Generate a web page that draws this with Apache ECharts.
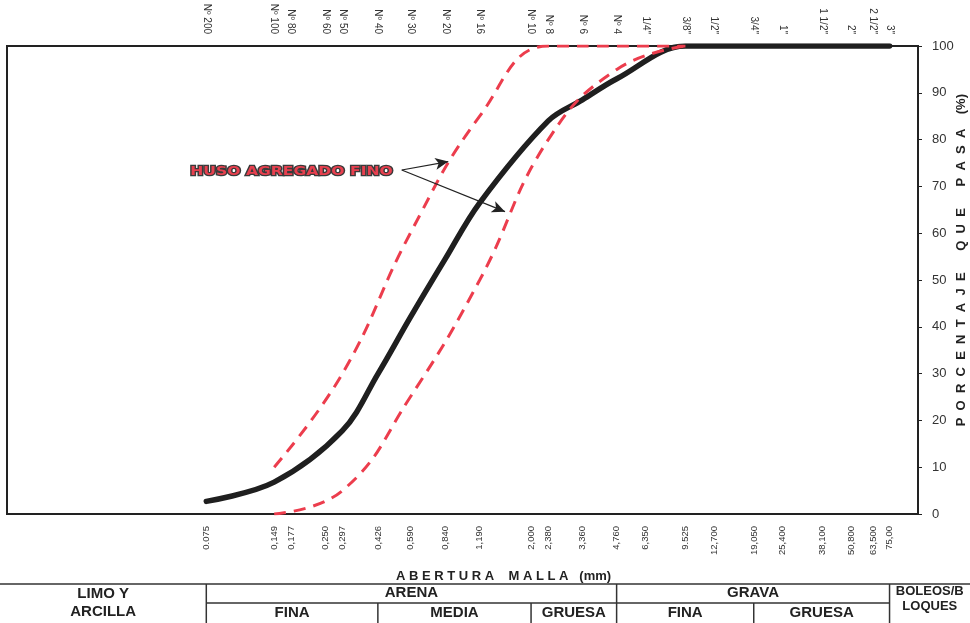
<!DOCTYPE html>
<html>
<head>
<meta charset="utf-8">
<script src="https://cdn.jsdelivr.net/npm/echarts@6/dist/echarts.min.js"></script>
<style>
  html, body { margin: 0; padding: 0; background: #fff; }
  #chart { width: 970px; height: 623px; }
</style>
</head>
<body>
<div id="chart"></div>
<script>
// Sieve openings (mm), printed opening labels and sieve designations
const sieveSizes = [0.075, 0.149, 0.177, 0.250, 0.297, 0.426, 0.590, 0.840, 1.190, 2.000, 2.380,
  3.360, 4.760, 6.350, 9.525, 12.700, 19.050, 25.400, 38.100, 50.800, 63.500, 75.00];
const sizeLabels = ['0.075', '0,149', '0,177', '0,250', '0,297', '0,426', '0,590', '0,840', '1,190', '2,000', '2,380',
  '3,360', '4,760', '6,350', '9.525', '12,700', '19,050', '25,400', '38,100', '50,800', '63,500', '75,00'];
const sieveNames = ['Nº 200', 'Nº 100', 'Nº 80', 'Nº 60', 'Nº 50', 'Nº 40', 'Nº 30', 'Nº 20', 'Nº 16', 'Nº 10', 'Nº 8',
  'Nº 6', 'Nº 4', '1/4"', '3/8"', '1/2"', '3/4"', '1"', '1 1/2"', '2"', '2 1/2"', '3"'];

// Percent passing of the tested sample on the sieves used in the test
const sampleSizes = [0.075, 0.149, 0.297, 0.426, 0.590, 0.840, 1.190, 2.380, 3.360, 4.760, 9.525, 19.050, 38.100, 75.00];
const passingSample = [2.7, 6.8, 17.8, 30, 42, 54.5, 66.5, 84, 88.5, 93, 100, 100, 100, 100];

// Fine aggregate grading band (upper and lower limits)
const limitSizes = [0.149, 0.297, 0.590, 1.190, 2.380, 4.760, 9.525];
const upperLimit = [10, 30, 60, 85, 100, 100, 100];
const lowerLimit = [0, 5, 25, 50, 80, 95, 100];

// Soil classification boundaries (mm) used by the table under the chart
const classBounds = [0.075, 0.425, 2.0, 4.75, 19.0, 75.0];

// Callout anchors in data units: [opening mm, % passing]
const calloutText = 'HUSO AGREGADO FINO';
const calloutAnchor = [0.1775, 73.1];
const arrowStart = [0.541, 73.5];
const arrowTips = [[0.866, 75.3], [1.537, 64.6]];

const pair = (xs, ys) => xs.map((x, i) => [x, ys[i]]);
const indexOfSize = v => sieveSizes.findIndex(s => Math.abs(Math.log10(s) - Math.log10(v)) < 1e-4);
const spaced = (words, gap, wordGap) => words.map(w => w.split('').join(gap)).join(wordGap);

const labelFont = 'Liberation Sans, Arial, sans-serif';
const red = '#ec3d4d';

const chart = echarts.init(document.getElementById('chart'), null, { renderer: 'canvas' });

const option = {
  animation: false,
  backgroundColor: '#fff',
  grid: {
    left: 7, right: 52, top: 46, bottom: 109,
    outerBoundsMode: 'none', containLabel: false,
    show: true, borderColor: '#222', borderWidth: 2, backgroundColor: 'transparent'
  },
  xAxis: [
    {
      type: 'log', logBase: 10, min: 0.01, max: 100, position: 'bottom',
      name: spaced(['ABERTURA', 'MALLA'], ' ', '    ') + '   (mm)',
      nameLocation: 'middle', nameGap: 56,
      nameTextStyle: { fontFamily: labelFont, fontWeight: 'bold', fontSize: 13, color: '#222', padding: [0, 0, 0, 82] },
      axisLine: { show: true, lineStyle: { color: '#222', width: 2 } },
      axisTick: { show: false },
      splitLine: { show: false },
      minorTick: { show: false },
      axisLabel: {
        customValues: sieveSizes,
        rotate: 90, margin: 12, fontSize: 9.5, color: '#333', fontFamily: labelFont,
        formatter: v => { const i = indexOfSize(v); return i >= 0 ? sizeLabels[i] : ''; }
      }
    },
    {
      type: 'log', logBase: 10, min: 0.01, max: 100, position: 'top',
      axisLine: { show: true, lineStyle: { color: '#222', width: 2 } },
      axisTick: { show: false },
      splitLine: { show: false },
      minorTick: { show: false },
      axisLabel: {
        customValues: sieveSizes,
        rotate: 90, margin: 12, fontSize: 10, color: '#333', fontFamily: labelFont,
        formatter: v => { const i = indexOfSize(v); return i >= 0 ? sieveNames[i] : ''; }
      }
    }
  ],
  yAxis: {
    type: 'value', min: 0, max: 100, interval: 10, position: 'right',
    name: '           ' + spaced(['PORCENTAJE', 'QUE', 'PASA'], '  ', '      ') + '    (%)',
    nameLocation: 'middle', nameRotate: 90, nameGap: 37, nameMoveOverlap: false,
    nameTextStyle: { fontFamily: labelFont, fontWeight: 'bold', fontSize: 13, color: '#222' },
    axisLine: { show: true, lineStyle: { color: '#222', width: 2 } },
    axisTick: { show: true, inside: false, length: 4, lineStyle: { color: '#222', width: 1 } },
    splitLine: { show: false },
    axisLabel: { margin: 14, fontSize: 13, color: '#333', fontFamily: labelFont }
  },
  series: [
    {
      name: 'Muestra',
      type: 'line',
      xAxisIndex: 0,
      data: pair(sampleSizes, passingSample),
      smooth: 0.35,
      showSymbol: false,
      lineStyle: { color: '#1f1f1f', width: 5.5, cap: 'round', join: 'round' },
      z: 3,
      markLine: {
        silent: true,
        symbol: ['none', 'arrow'],
        symbolSize: [9, 13],
        label: { show: false },
        lineStyle: { color: '#222', width: 1.2, type: 'solid' },
        data: arrowTips.map(t => [{ coord: arrowStart }, { coord: t }])
      }
    },
    {
      name: 'Límite superior',
      type: 'line',
      xAxisIndex: 0,
      data: pair(limitSizes, upperLimit),
      smooth: 0.45,
      showSymbol: false,
      lineStyle: { color: red, width: 3, type: [12, 8] },
      z: 4
    },
    {
      name: 'Límite inferior',
      type: 'line',
      xAxisIndex: 0,
      data: pair(limitSizes, lowerLimit),
      smooth: 0.45,
      showSymbol: false,
      lineStyle: { color: red, width: 3, type: [12, 8] },
      z: 4
    }
  ]
};

chart.setOption(option);

// Callout text and the classification table, positioned from the axis scale
const px = v => chart.convertToPixel({ xAxisIndex: 0 }, v);
const pt = c => chart.convertToPixel({ xAxisIndex: 0, yAxisIndex: 0 }, c);
const bx = classBounds.map(px);
const W = 970;
const rowTop = 584, rowMid = 603, rowBot = 640;
const lineStyle = { stroke: '#333', lineWidth: 1.5 };
const line = (x1, y1, x2, y2) => ({ type: 'line', shape: { x1, y1, x2, y2 }, style: lineStyle, silent: true });
const txt = (text, x, y, size) => ({
  type: 'text', x, y, silent: true,
  style: { text, fill: '#222', font: 'bold ' + (size || 15) + 'px ' + labelFont, align: 'center', verticalAlign: 'middle' }
});

const c = pt(calloutAnchor);
const graphics = [
  {
    type: 'text', x: c[0], y: c[1], scaleX: 1.2, silent: true, z: 10,
    style: {
      text: calloutText, font: 'bold 13px DejaVu Sans, sans-serif',
      fill: '#e8404f', stroke: '#3a3a3a', lineWidth: 2.5, strokeFirst: true,
      align: 'center', verticalAlign: 'middle'
    }
  },
  line(0, rowTop, W, rowTop),
  line(bx[0], rowTop, bx[0], rowBot),
  line(bx[3], rowTop, bx[3], rowBot),
  line(bx[5], rowTop, bx[5], rowBot),
  line(bx[0], rowMid, bx[5], rowMid),
  line(bx[1], rowMid, bx[1], rowBot),
  line(bx[2], rowMid, bx[2], rowBot),
  line(bx[4], rowMid, bx[4], rowBot),
  txt('LIMO Y', bx[0] / 2, 594),
  txt('ARCILLA', bx[0] / 2, 612),
  txt('ARENA', (bx[0] + bx[3]) / 2, 593),
  txt('GRAVA', (bx[3] + bx[5]) / 2, 593),
  txt('BOLEOS/B', (bx[5] + W) / 2, 591, 13),
  txt('LOQUES', (bx[5] + W) / 2, 606, 13),
  txt('FINA', (bx[0] + bx[1]) / 2, 613),
  txt('MEDIA', (bx[1] + bx[2]) / 2, 613),
  txt('GRUESA', (bx[2] + bx[3]) / 2, 613),
  txt('FINA', (bx[3] + bx[4]) / 2, 613),
  txt('GRUESA', (bx[4] + bx[5]) / 2, 613)
];
chart.setOption({ graphic: graphics });
</script>
</body>
</html>
